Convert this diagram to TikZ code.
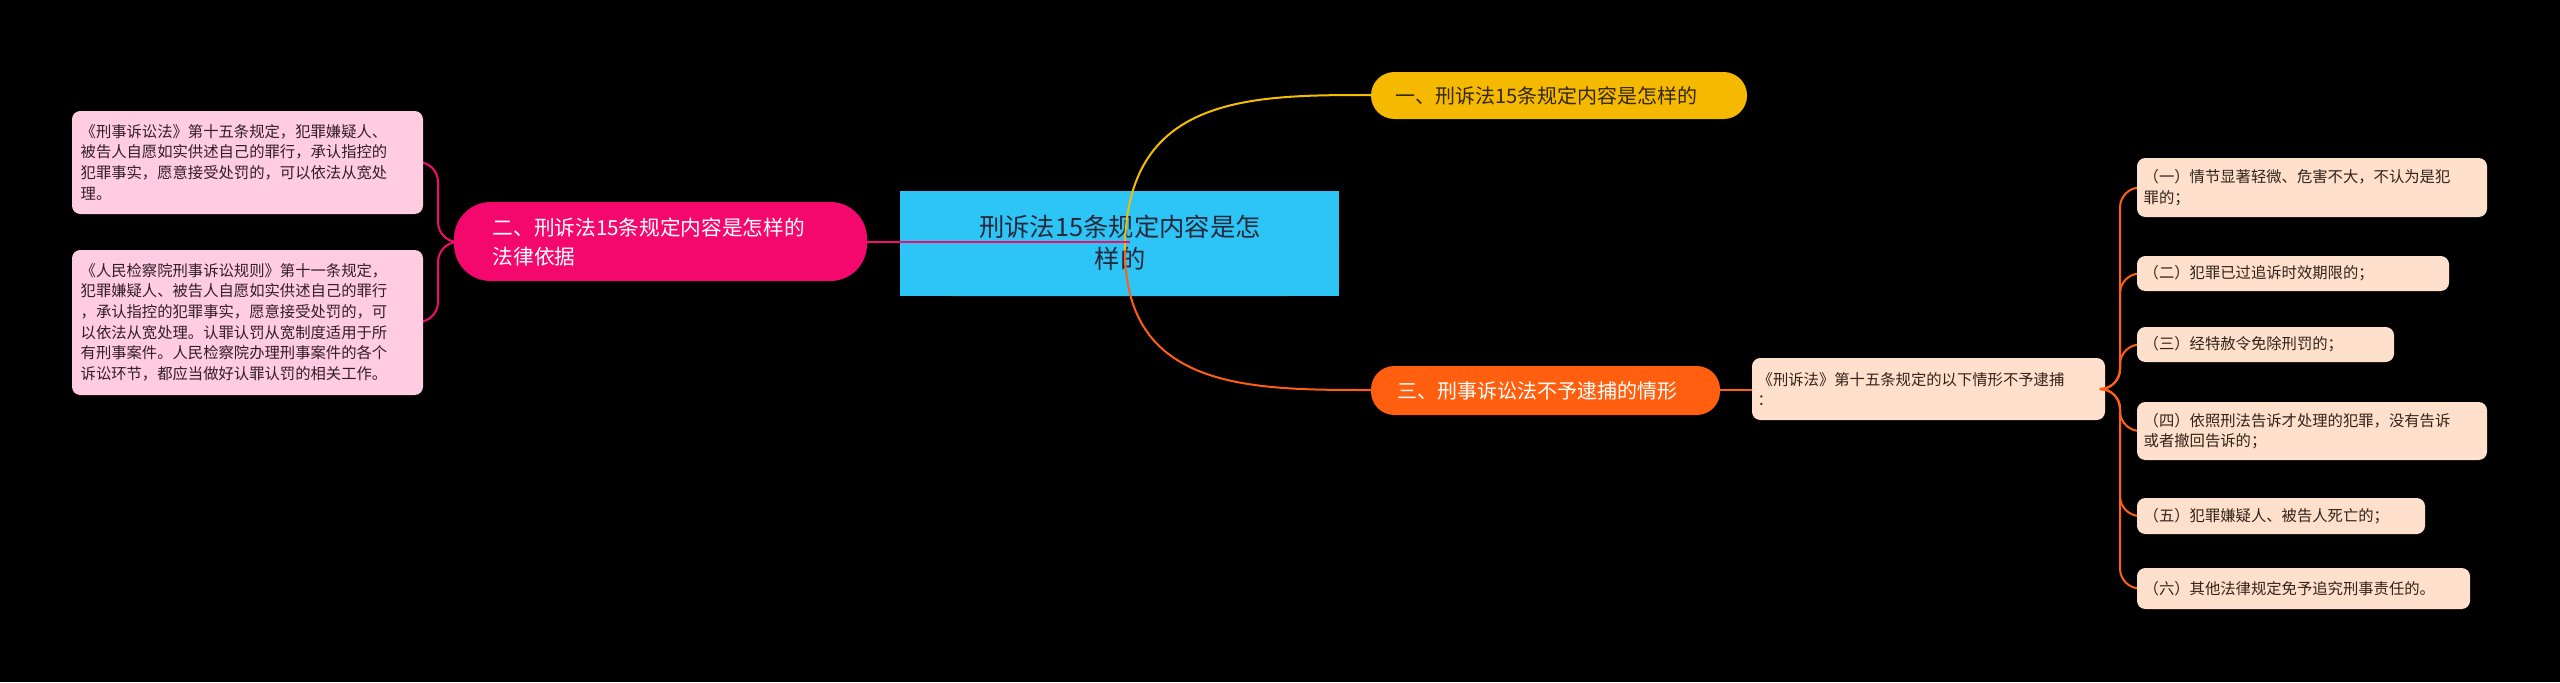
\documentclass[tikz,border=0pt]{standalone}
\usepackage{fontspec}
\setmainfont{Noto Sans CJK SC}
\begin{document}
\begin{tikzpicture}[x=0.3pt,y=-0.3pt,
 box/.style={rounded corners=2.5pt,inner sep=0pt,anchor=north west,align=left},
 txt/.style={font=\fontsize{4.6pt}{6.2pt}\selectfont,align=left,anchor=west,inner sep=0pt}]
\fill[black] (0,0) rectangle (2560,682);
\useasboundingbox (0,0) rectangle (2560,682);
% center
\fill[fill={rgb,255:red,45;green,197;blue,245}] (900,191) rectangle (1339,296) [rounded corners=15pt];
\fill[fill={rgb,255:red,45;green,197;blue,245},rounded corners=15.7pt] (900,191) rectangle (1339,296);
\node[font=\fontsize{7.6pt}{9.6pt}\selectfont,align=center,text={rgb,255:red,40;green,40;blue,60}] (c) at (1120,243) {刑诉法15条规定内容是怎\\样的};
% connectors from center
\coordinate (cs) at (1125,250);
\draw[line width=0.6pt,color={rgb,255:red,245;green,190;blue,0}] (cs) .. controls (1125,95) and (1250,95) .. (1371,95);
\draw[line width=0.6pt,color={rgb,255:red,255;green,95;blue,20}] (cs) .. controls (1125,390) and (1250,390) .. (1371,390);
\draw[line width=0.6pt,color={rgb,255:red,245;green,10;blue,110}] (867,242) -- (1130,242);
% level 1
\fill[fill={rgb,255:red,245;green,185;blue,0},rounded corners=7pt] (1371,72) rectangle (1747,119);
\node[txt,font=\fontsize{6pt}{7.5pt}\selectfont,text={rgb,255:red,50;green,40;blue,20}] (n1) at (1395,96) {一、刑诉法15条规定内容是怎样的};
\fill[fill={rgb,255:red,255;green,95;blue,15},rounded corners=7pt] (1371,366) rectangle (1720,415);
\node[txt,font=\fontsize{6pt}{7.5pt}\selectfont,text=white] (n3) at (1397,391) {三、刑事诉讼法不予逮捕的情形};
\fill[fill={rgb,255:red,245;green,8;blue,110},rounded corners=11pt] (454,202) rectangle (867,281);
\node[txt,font=\fontsize{6.2pt}{8.6pt}\selectfont,text=white] (n2) at (492,242) {二、刑诉法15条规定内容是怎样的\\法律依据};
% left leaves
\draw[line width=0.6pt,color={rgb,255:red,245;green,10;blue,110},rounded corners=6pt] (454,242) -- (438,242) -- (438,162) -- (423,162);
\draw[line width=0.6pt,color={rgb,255:red,245;green,10;blue,110},rounded corners=6pt] (454,242) -- (438,242) -- (438,322) -- (423,322);
\fill[fill={rgb,255:red,255;green,204;blue,225},rounded corners=2.5pt] (72,111) rectangle (423,214);
\node[txt,text={rgb,255:red,50;green,30;blue,40}] (l1) at (80,162) {《刑事诉讼法》第十五条规定，犯罪嫌疑人、\\被告人自愿如实供述自己的罪行，承认指控的\\犯罪事实，愿意接受处罚的，可以依法从宽处\\理。};
\fill[fill={rgb,255:red,255;green,204;blue,225},rounded corners=2.5pt] (72,250) rectangle (423,395);
\node[txt,text={rgb,255:red,50;green,30;blue,40}] (l2) at (80,322) {《人民检察院刑事诉讼规则》第十一条规定，\\犯罪嫌疑人、被告人自愿如实供述自己的罪行\\，承认指控的犯罪事实，愿意接受处罚的，可\\以依法从宽处理。认罪认罚从宽制度适用于所\\有刑事案件。人民检察院办理刑事案件的各个\\诉讼环节，都应当做好认罪认罚的相关工作。};
% middle
\draw[line width=0.6pt,color={rgb,255:red,255;green,95;blue,20}] (1720,390) -- (1752,390);
\fill[fill={rgb,255:red,255;green,224;blue,204},rounded corners=2.5pt] (1752,358) rectangle (2105,420);
\node[txt,text={rgb,255:red,50;green,35;blue,25}] (m) at (1757,389) {《刑诉法》第十五条规定的以下情形不予逮捕\\：};
% right leaves
\foreach \ya/\yb/\xr/\t [count=\i] in {158/217/2487/{（一）情节显著轻微、危害不大，不认为是犯\\罪的；},256/291/2449/{（二）犯罪已过追诉时效期限的；},327/362/2394/{（三）经特赦令免除刑罚的；},402/460/2487/{（四）依照刑法告诉才处理的犯罪，没有告诉\\或者撤回告诉的；},498/534/2425/{（五）犯罪嫌疑人、被告人死亡的；},568/609/2470/{（六）其他法律规定免予追究刑事责任的。}}{
 \draw[line width=0.6pt,color={rgb,255:red,255;green,95;blue,20},rounded corners=6pt] (2105,389) -- (2120,389) -- (2120,{(\ya+\yb)/2}) -- (2137,{(\ya+\yb)/2});
 \fill[fill={rgb,255:red,255;green,224;blue,204},rounded corners=2.5pt] (2137,\ya) rectangle (\xr,\yb);
 \node[txt,text={rgb,255:red,50;green,35;blue,25}] (r\i) at (2143,{(\ya+\yb)/2}) {\t};
}
\end{tikzpicture}
\end{document}
